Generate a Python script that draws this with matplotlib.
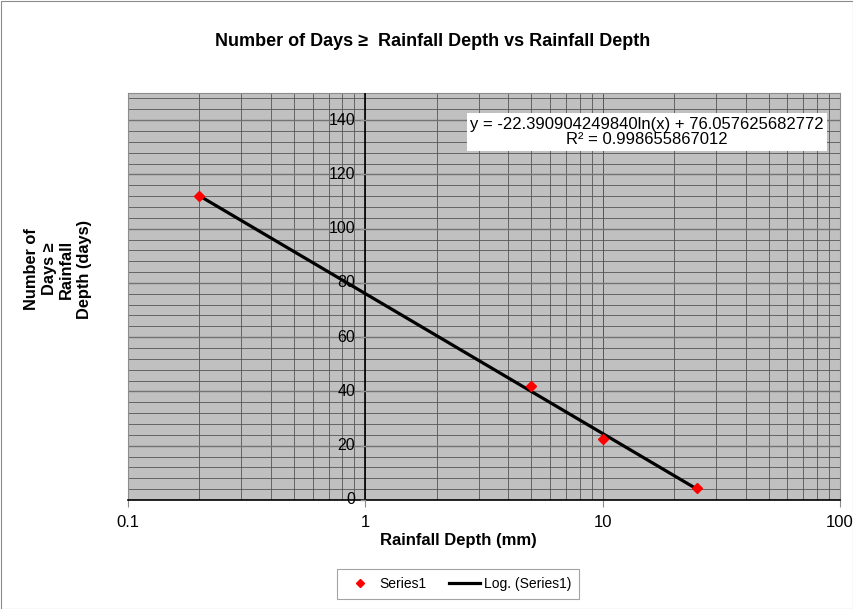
import numpy as np
import matplotlib
matplotlib.use("Agg")
import matplotlib.pyplot as plt
from matplotlib.ticker import LogLocator, FixedLocator, NullFormatter, FuncFormatter
from matplotlib.lines import Line2D

plt.rcParams['font.family'] = ['Liberation Sans', 'DejaVu Sans']

rain_depth = [0.2, 5, 10, 25]
num_days = [112, 42, 22.5, 4.5]
fit_a = -22.390904249840
fit_b = 76.057625682772
r2 = 0.998655867012
x_ticks = [0.1, 1, 10, 100]
y_ticks = [0, 20, 40, 60, 80, 100, 120, 140]

W, H = 854, 609
fig = plt.figure(figsize=(W/100, H/100), dpi=100)
fig.patch.set_facecolor('white')
fig.add_artist(plt.Rectangle((0.5/W, 0.5/H), 1-1.5/W, 1-1.5/H, transform=fig.transFigure,
                             fill=False, edgecolor='#8c8c8c', lw=0.8))

L, R, T, B = 128, 840, 93, 500
ax = fig.add_axes([L/W, 1-B/H, (R-L)/W, (B-T)/H])
ax.set_facecolor('#c0c0c0')
ax.set_xscale('log')
ax.set_xlim(0.1, 100)
ax.set_ylim(0, 150)

ax.xaxis.set_major_locator(FixedLocator(x_ticks))
ax.xaxis.set_minor_locator(LogLocator(base=10, subs=np.arange(2, 10)))
ax.xaxis.set_minor_formatter(NullFormatter())
ax.xaxis.set_major_formatter(FuncFormatter(lambda v, p: f"{v:g}"))
ax.yaxis.set_major_locator(FixedLocator(y_ticks))
ax.yaxis.set_minor_locator(FixedLocator(np.arange(0, 151, 4)))
ax.grid(which='major', axis='x', color='#555555', lw=0.7)
ax.grid(which='minor', axis='x', color='#555555', lw=0.6)
ax.grid(which='minor', axis='y', color='#555555', lw=0.6)
ax.grid(which='major', axis='y', color='#727272', lw=1.0)
ax.set_axisbelow(True)

for s in ['top', 'right', 'left']:
    ax.spines[s].set_color('#8c8c8c')
    ax.spines[s].set_linewidth(0.8)
ax.spines['bottom'].set_color('black')
ax.spines['bottom'].set_linewidth(1.2)

ax.axvline(1, color='black', lw=1.2, zorder=3)
ax.tick_params(axis='y', which='both', left=False, labelleft=False)
ax.tick_params(axis='x', which='minor', bottom=False)
ax.tick_params(axis='x', which='major', length=5, direction='out', labelsize=12, pad=6,
               color='#8c8c8c')
for yv in y_ticks:
    ax.plot([0.96, 1], [yv, yv], color='#8e8e8e', lw=1.0, zorder=3, clip_on=False)
    ax.text(0.905, yv, str(yv), ha='right', va='center', fontsize=11.5, zorder=4)

xs = np.geomspace(min(rain_depth), max(rain_depth), 200)
ax.plot(xs, fit_a*np.log(xs) + fit_b, color='black', lw=2.3, zorder=4)
ax.plot(rain_depth, num_days, linestyle='none', marker='D', ms=5, color='red', zorder=5)

ax.text((647-L)/(R-L), (B-132)/(B-T),
        f"y = {fit_a:.12f}ln(x) + {fit_b:.12f}\nR² = {r2:.12f}",
        transform=ax.transAxes, ha='center', va='center', fontsize=12, linespacing=1.05,
        bbox=dict(boxstyle='square,pad=0.2', fc='white', ec='none'), zorder=6)

fig.text(433/W, 1-41/H, "Number of Days ≥  Rainfall Depth vs Rainfall Depth",
         ha='center', va='center', fontsize=13, fontweight='bold')
fig.text(458/W, 1-540/H, "Rainfall Depth (mm)", ha='center', va='center',
         fontsize=12, fontweight='bold')
fig.text(58/W, 1-269/H, "Number of\nDays ≥\nRainfall\nDepth (days)", ha='center', va='center',
         rotation=90, fontsize=11.8, fontweight='bold', linespacing=1.2)

handles = [Line2D([], [], linestyle='none', marker='D', ms=4, color='red'),
           Line2D([], [], color='black', lw=2.3)]
leg = fig.legend(handles, ['Series1', 'Log. (Series1)'], loc='center',
                 bbox_to_anchor=(458/W, 1-584/H), ncol=2, fontsize=10, frameon=True,
                 fancybox=False, edgecolor='#8c8c8c', handlelength=2.2, handletextpad=0.3,
                 columnspacing=1.6, borderpad=0.55, borderaxespad=0)
leg.get_frame().set_linewidth(0.8)

fig.savefig('out.png', dpi=100)
